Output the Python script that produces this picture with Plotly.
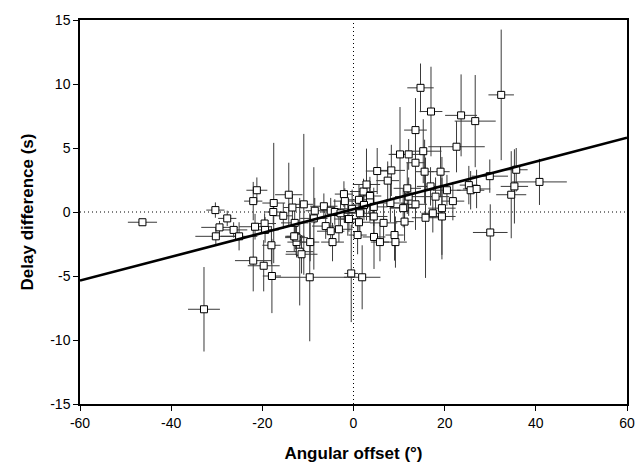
import numpy as np
import plotly.graph_objects as go

# angular offset (deg), delay difference (s) and their errors
offset = [-46.3, -32.8, -30.3, -29.4, -30.2, -27.7, -26.3, -25.1, -21.2, -22.0,
          -21.6, -19.5, -22.0, -19.7, -19.4, -18.0, -17.9, -17.5, -17.6, -15.4,
          -14.2, -13.4, -12.9, -12.7, -12.5, -11.8, -11.4, -10.9, -8.5, -8.7,
          -9.5, -9.6, -6.5, -6.1, -5.0, -5.0, -4.6, -4.1, -3.2, -2.1,
          -1.9, -1.25, -0.3, -0.5, 1.9, 0.9, 1.2, 1.4, 1.2, 2.2,
          2.85, 3.6, 3.6, 2.3, 4.45, 4.45, 4.5, 5.2, 5.8, 6.6,
          7.5, 8.1, 8.3, 9.0, 9.2, 10.2, 11.2, 11.2, 11.8, 12.1,
          12.1, 13.6, 13.6, 13.6, 14.7, 15.3, 15.6, 15.8, 17.0, 16.9,
          17.4, 18.0, 19.1, 19.4, 19.4, 20.5, 21.8, 22.6, 23.6, 25.3,
          25.7, 26.7, 27.0, 29.9, 30.0, 32.4, 34.6, 35.3, 35.7, 40.8,
          -2.85, -1.0, -12.5, 10.9, -13.0]
delay = [-0.8, -7.6, 0.15, -1.2, -1.9, -0.5, -1.4, -1.9, 1.7, 0.85,
         -1.15, -0.9, -3.8, -4.2, -1.4, -2.6, -5.0, 0.7, 0.0, -0.3,
         1.35, 0.35, -0.85, -1.9, -2.35, -3.1, -3.3, 0.6, 0.1, -0.5,
         -2.35, -5.1, 0.45, -1.1, -1.5, 0.1, -2.35, 0.0, -1.35, 1.4,
         0.85, -0.55, 0.25, -4.8, -5.1, -1.8, -0.8, -0.1, 0.95, 1.6,
         2.15, 1.25, 0.75, 0.55, 0.4, -0.35, -1.95, 3.2, -2.35, -0.85,
         2.45, 0.7, 3.25, -1.8, -2.35, 4.5, 0.35, -0.75, 1.85, 1.2,
         4.5, 6.4, 3.85, 0.6, 9.7, 4.75, 3.15, -0.45, 7.85, 2.0,
         -0.1, 1.2, 3.15, 0.3, -0.35, 1.7, 0.85, 5.1, 7.55, 2.1,
         1.7, 7.1, 1.8, 2.8, -1.6, 9.15, 1.35, 2.0, 3.3, 2.35,
         -0.1, -0.55, -2.0, 0.3, -1.9]
offset_err = [3.2, 3.5, 2.0, 4.0, 4.5, 2.0, 3.0, 4.0, 2.3, 2.0,
              3.5, 2.5, 4.0, 3.5, 3.0, 2.0, 2.0, 2.5, 2.0, 2.0,
              3.0, 2.0, 3.0, 2.0, 2.0, 3.0, 3.5, 2.0, 2.0, 3.0,
              2.0, 8.2, 3.0, 3.0, 3.0, 2.0, 2.5, 3.0, 3.0, 2.0,
              2.5, 3.0, 3.0, 1.5, 4.0, 2.0, 2.5, 3.0, 2.5, 3.0,
              3.0, 2.5, 3.0, 2.5, 3.0, 3.0, 2.5, 2.5, 2.0, 3.0,
              2.5, 3.0, 3.0, 2.0, 2.5, 2.5, 3.0, 2.0, 3.0, 3.0,
              4.0, 2.5, 2.0, 2.5, 2.9, 4.0, 2.0, 3.0, 2.5, 3.0,
              2.5, 3.0, 2.0, 3.0, 3.0, 3.0, 2.5, 6.2, 3.5, 2.0,
              3.0, 4.5, 3.0, 4.0, 3.8, 2.8, 3.3, 3.0, 2.5, 6.0,
              2.0, 2.0, 2.5, 3.0, 2.0]
delay_err = [0.2, 3.3, 0.6, 0.5, 0.7, 0.6, 0.6, 1.1, 1.0, 1.5,
             1.0, 0.8, 2.4, 2.0, 1.0, 1.5, 2.9, 4.7, 1.0, 1.0,
             2.5, 1.0, 1.2, 1.0, 1.2, 4.2, 1.5, 5.5, 1.0, 4.0,
             1.5, 5.0, 1.0, 1.0, 1.2, 1.0, 1.5, 1.0, 1.0, 1.0,
             1.0, 1.3, 1.5, 3.8, 2.5, 1.5, 1.0, 1.5, 1.2, 1.0,
             2.8, 1.5, 1.5, 1.2, 1.5, 1.5, 2.5, 1.8, 1.5, 1.5,
             1.5, 1.5, 2.0, 2.0, 2.0, 3.7, 1.5, 1.5, 2.0, 1.5,
             1.2, 2.5, 1.5, 2.0, 1.9, 2.5, 2.5, 4.7, 3.5, 1.5,
             1.5, 1.5, 2.0, 4.0, 3.0, 1.2, 1.5, 2.0, 3.2, 1.5,
             1.5, 3.6, 1.5, 1.3, 2.2, 5.1, 3.4, 2.9, 1.7, 1.8,
             1.0, 1.0, 1.0, 1.5, 1.2]

# linear fit shown in the figure
fit_slope = 0.093
fit_intercept = 0.22

x_range = [-60, 60]
y_range = [-15, 15]
x_ticks = [-60, -40, -20, 0, 20, 40, 60]
y_ticks = [-15, -10, -5, 0, 5, 10, 15]

fig = go.Figure()

fig.add_trace(go.Scatter(
    x=offset, y=delay, mode="markers",
    error_x=dict(type="data", array=offset_err, color="#3a3a3a", thickness=1, width=0),
    error_y=dict(type="data", array=delay_err, color="#3a3a3a", thickness=1, width=0),
    marker=dict(symbol="square", size=7, color="white", line=dict(width=1, color="black")),
    showlegend=False,
))

fit_x = np.array(x_range)
fig.add_trace(go.Scatter(
    x=fit_x, y=fit_slope * fit_x + fit_intercept, mode="lines",
    line=dict(color="black", width=2.6), showlegend=False,
))

# dotted zero lines
fig.add_shape(type="line", x0=0, x1=0, y0=y_range[0], y1=y_range[1],
              line=dict(color="black", width=1, dash="1px,3px"), layer="below")
fig.add_shape(type="line", x0=x_range[0], x1=x_range[1], y0=0, y1=0,
              line=dict(color="black", width=1, dash="1px,3px"), layer="below")

axis_style = dict(
    showgrid=False, zeroline=False, showline=True, linecolor="black", linewidth=1.5,
    mirror=True, ticks="outside", ticklen=5, tickwidth=1.2, tickcolor="black",
    tickfont=dict(family="Liberation Sans, Arial", size=14, color="black"),
    automargin=False,
)

fig.update_xaxes(range=x_range, tickmode="array", tickvals=x_ticks,
                 ticktext=[str(t) for t in x_ticks],
                 title=dict(text="<b>Angular offset (°)</b>", standoff=18,
                            font=dict(family="Liberation Sans, Arial", size=17, color="black")),
                 **axis_style)
fig.update_yaxes(range=y_range, tickmode="array", tickvals=y_ticks,
                 ticktext=[str(t) for t in y_ticks],
                 title=dict(text="<b>Delay difference (s)</b>", standoff=12,
                            font=dict(family="Liberation Sans, Arial", size=17, color="black")),
                 **axis_style)

fig.update_layout(
    width=640, height=473,
    margin=dict(l=80, r=13, t=20, b=69),
    plot_bgcolor="white", paper_bgcolor="white",
)

# remove the default page margin so the figure sits at the window's corner
fig.write_html("out.html", config={"displayModeBar": False},
               post_script="document.body.style.margin='0';")
